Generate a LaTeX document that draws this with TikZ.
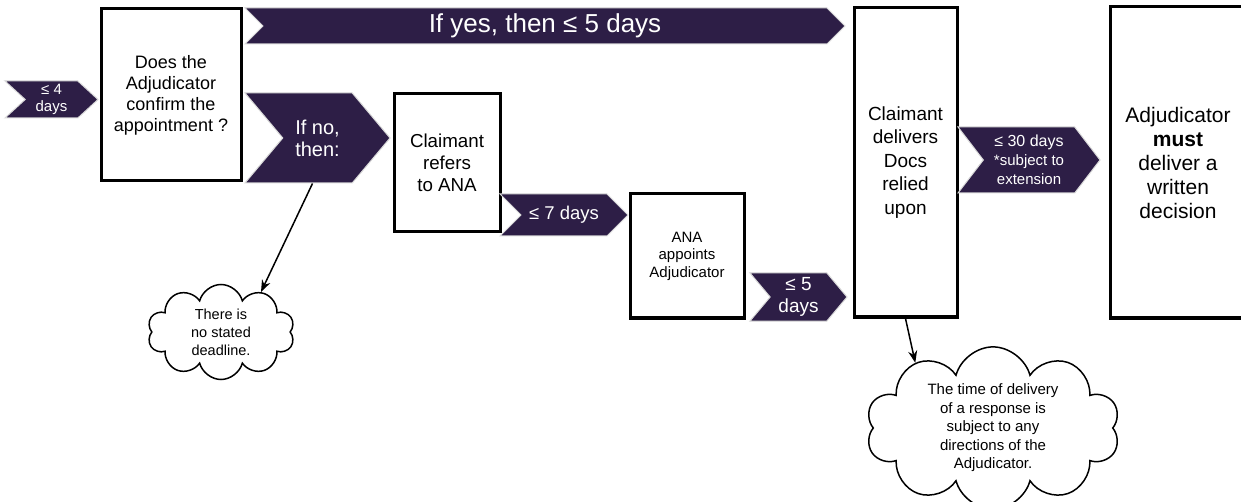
\documentclass[tikz,border=0pt]{standalone}
\usepackage{fontspec}
\setmainfont{Liberation Sans}
\usepackage{tikz}
\usetikzlibrary{shapes.symbols, arrows, arrows.meta}
\definecolor{plum}{RGB}{45,30,70}
\tikzstyle{stage} = [rectangle, draw=black, line width=3pt, fill=white, align=center, inner sep=2pt]
\tikzstyle{timing} = [signal, signal to=east, signal from=west, fill=plum, draw=gray!30, line width=1pt, text=white, align=center, inner sep=0pt]
\tikzstyle{remark} = [cloud, cloud puffs=10, cloud ignores aspect, draw=black, line width=1.5pt, fill=white, align=center, inner sep=0pt]
\tikzstyle{arrow} = [line width=1.5pt,->,>={Stealth[length=12pt, width=9pt]}]

\begin{document}
\begin{tikzpicture}[x=1pt, y=1pt, node distance=100pt]
		\useasboundingbox (0,0) rectangle (1241,-502);
		\node (adj) [stage, minimum width=140pt, minimum height=172pt, font=\fontsize{18}{21}\selectfont] at (171,-95) {Does the\\Adjudicator\\confirm the\\appointment ?};
		
		\node (four) [timing, left of=adj, xshift=-19.5pt, yshift=-4.5pt, minimum width=93pt, minimum height=37pt, signal pointer angle=85, font=\fontsize{15}{17}\selectfont] {≤ 4\\days};
		
		\node (yes) [timing, right of=adj, xshift=274pt, yshift=69pt, minimum width=600pt, minimum height=36pt, signal pointer angle=90, font=\fontsize{26}{28}\selectfont] {If yes, then ≤ 5 days};
		\node (no) [timing, right of=adj, xshift=46.5pt, yshift=-43pt, minimum width=145pt, minimum height=90pt, signal pointer angle=100, font=\fontsize{20}{22}\selectfont] {If no,\\then:};
		
		\node (refer) [stage, right of=no, xshift=29.5pt, yshift=-25pt, minimum width=106pt, minimum height=138pt, font=\fontsize{18.75}{22}\selectfont] {Claimant\\refers\\to ANA};
		\node (seven) [timing, right of=refer, xshift=17pt, yshift=-52pt, minimum width=128pt, minimum height=42pt, signal pointer angle=90, font=\fontsize{18.5}{21}\selectfont] {≤ 7 days};
		\node (appoint) [stage, right of=seven, xshift=23pt, yshift=-41pt, minimum width=114pt, minimum height=124pt, font=\fontsize{15}{17.5}\selectfont] {ANA\\appoints\\Adjudicator};
		\node (five) [timing, right of=appoint, xshift=11.5pt, yshift=-41pt, minimum width=97pt, minimum height=48pt, signal pointer angle=100, font=\fontsize{19}{22}\selectfont] {≤ 5\\days};
		
		\node (docs) [stage, right of=five, xshift=7pt, yshift=134.5pt, minimum width=103pt, minimum height=309pt, font=\fontsize{19}{23.5}\selectfont] {Claimant\\delivers\\Docs\\relied\\upon};
		\node (thirty) [timing, right of=docs, xshift=23.5pt, yshift=2.5pt, minimum width=142pt, minimum height=66pt, signal pointer angle=105, font=\fontsize{15}{19}\selectfont] {{\fontsize{16}{19}\selectfont ≤ 30 days}\\{}*subject to\\extension};
		\node (decide) [stage, right of=thirty, xshift=49pt, yshift=-2.5pt, minimum width=136pt, minimum height=311pt, font=\fontsize{21}{24}\selectfont] {Adjudicator\\\textbf{must}\\deliver a\\written\\decision};
		
		\node (nodeadline) [remark, below of=no, xshift=-96.5pt, yshift=-94pt, minimum width=147pt, minimum height=95pt, font=\fontsize{14.5}{18}\selectfont] {There is\\no stated\\deadline.};
		\node (directions) [remark, below of=docs, xshift=87.5pt, yshift=-165.5pt, minimum width=254pt, minimum height=136pt, font=\fontsize{15}{18.5}\selectfont] {The time of delivery\\of a response is\\subject to any\\directions of the\\Adjudicator.};
		
		\draw [arrow] ([xshift=-5pt]no.south) -- (nodeadline.45);
		\draw [arrow] (docs.south) -- (directions.140);
		
\end{tikzpicture}
\end{document}
